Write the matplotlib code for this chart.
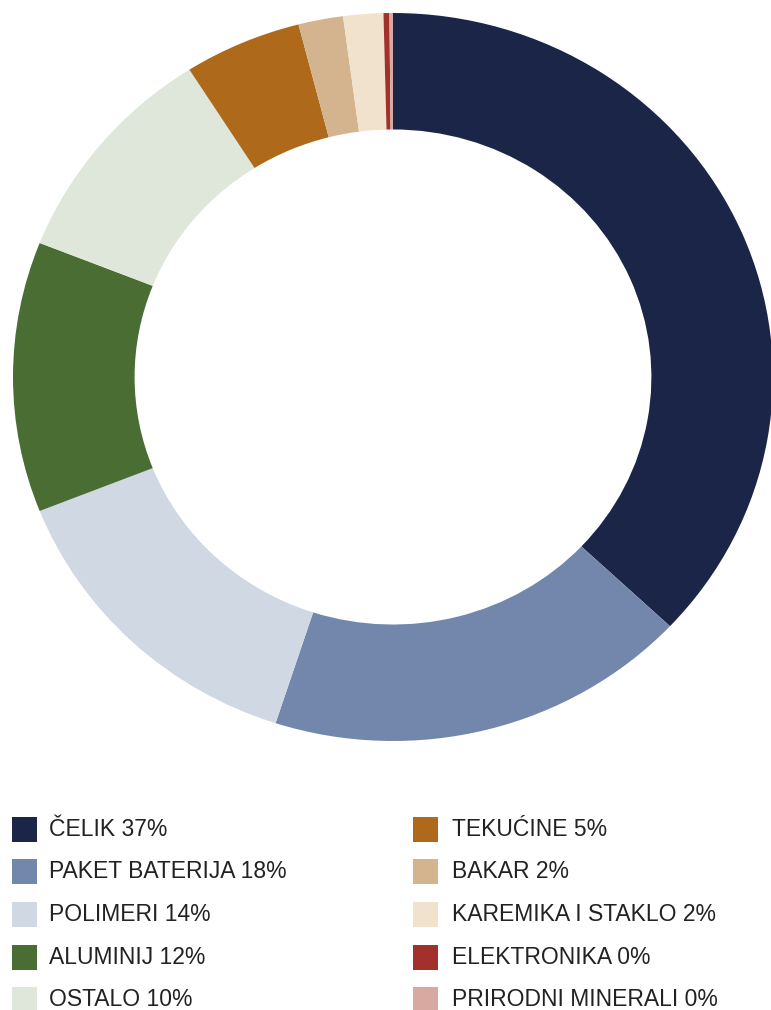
import matplotlib
matplotlib.use("Agg")
import matplotlib.pyplot as plt
from matplotlib.patches import Rectangle

materials = ["ČELIK", "PAKET BATERIJA", "POLIMERI", "ALUMINIJ", "OSTALO",
             "TEKUĆINE", "BAKAR", "KAREMIKA I STAKLO", "ELEKTRONIKA",
             "PRIRODNI MINERALI"]
shares = [37, 18, 14, 12, 10, 5, 1.9, 1.7, 0.25, 0.15]
pct_labels = ["37%", "18%", "14%", "12%", "10%", "5%", "2%", "2%", "0%", "0%"]
colors = ["#1b2547", "#7387ad", "#cfd8e3", "#4a6d34", "#dee7da",
          "#ae6a1a", "#d3b48f", "#f0e2cd", "#a2302b", "#d8a9a1"]

W, H = 771, 1010
fig = plt.figure(figsize=(W / 100, H / 100), dpi=100)

# ring is slightly stretched horizontally in the original
cx, cy = 393, 377      # centre in px
rx, ry = 380, 364      # outer radius in px
ax_top, ax_bot = 0, 760
ax = fig.add_axes([0, (H - ax_bot) / H, 1, (ax_bot - ax_top) / H])
ax.pie(shares, colors=colors, startangle=90, counterclock=False,
       radius=1, wedgeprops=dict(width=0.32, linewidth=0))
ax.set_aspect("auto")
ax.set_xlim(-cx / rx, (W - cx) / rx)
ax.set_ylim(-(ax_bot - cy) / ry, (cy - ax_top) / ry)
ax.axis("off")

# legend, two columns
font = ["Liberation Sans", "DejaVu Sans"]
col_x = [12, 413]
row_y0, row_dy = 829, 42.7
box = 25
for i, (name, pct) in enumerate(zip(materials, pct_labels)):
    col, row = divmod(i, 5)
    x = col_x[col]
    y = row_y0 + row * row_dy
    fig.add_artist(Rectangle((x / W, 1 - (y + box / 2) / H), box / W, box / H,
                             transform=fig.transFigure, facecolor=colors[i],
                             edgecolor="none"))
    fig.text((x + box + 12 + 2 * col) / W, 1 - y / H, f"{name} {pct}",
             family=font, fontsize=16.5, color="#222222",
             va="center", ha="left")

fig.savefig("out.png", dpi=100)
